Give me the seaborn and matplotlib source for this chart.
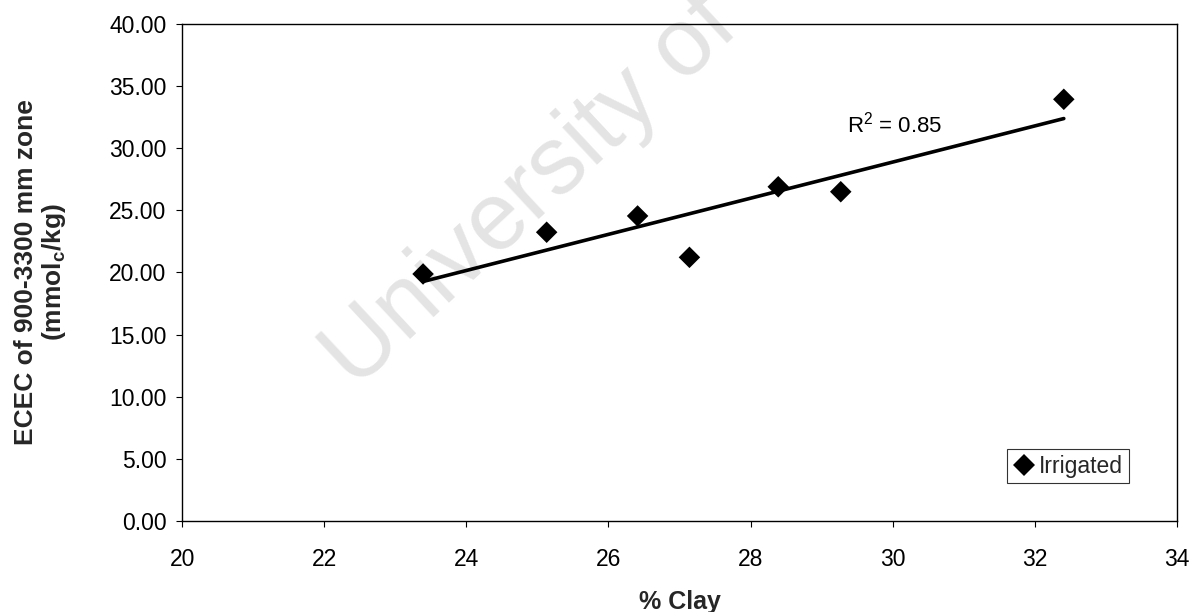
import matplotlib
matplotlib.use("Agg")
import matplotlib.pyplot as plt
import seaborn as sns
import numpy as np
import pandas as pd

# ---- data ----
clay_pct = [23.39, 25.13, 26.41, 27.14, 28.39, 29.27, 32.41]
ecec = [19.88, 23.24, 24.55, 21.22, 26.90, 26.50, 33.94]
series_name = "Irrigated"
r2_label = "R$^2$ = 0.85"
x_ticks = [20, 22, 24, 26, 28, 30, 32, 34]
y_ticks = [0, 5, 10, 15, 20, 25, 30, 35, 40]
x_label = "% Clay"
y_label = "ECEC of 900-3300 mm zone\n(mmol$_{\\mathbf{c}}$/kg)"
watermark = "University of Cape Town"

df = pd.DataFrame({"clay": clay_pct, "ecec": ecec, "group": series_name})

sns.set_theme(style="ticks")
plt.rcParams["font.family"] = ["Liberation Sans", "DejaVu Sans"]
plt.rcParams["mathtext.fontset"] = "custom"
plt.rcParams["mathtext.rm"] = "Liberation Sans"
plt.rcParams["mathtext.bf"] = "Liberation Sans:bold"
plt.rcParams["mathtext.it"] = "Liberation Sans:italic"

fig = plt.figure(figsize=(11.92, 6.12), dpi=100)
ax = fig.add_axes([0.1529, 0.1487, 0.8343, 0.8121])

# watermark (partly outside the figure, as in the reference)
ax.text(355 / 1192, 1 - 390 / 612, watermark, transform=fig.transFigure,
        rotation=43, rotation_mode="anchor", ha="left", va="baseline",
        fontsize=69, color="#e4e4e4", zorder=0.5, clip_on=False)

sns.regplot(data=df, x="clay", y="ecec", scatter=False, ci=None, truncate=True,
            line_kws={"color": "black", "lw": 2.6, "zorder": 3}, ax=ax)
sns.scatterplot(data=df, x="clay", y="ecec", hue="group", palette=["black"],
                marker="D", s=120, linewidth=0, edgecolor="black", ax=ax, zorder=4)

ax.set_xlim(20, 34)
ax.set_ylim(0, 40)
ax.set_xticks(x_ticks)
ax.set_yticks(y_ticks)
ax.set_yticklabels([f"{v:.2f}" for v in y_ticks])
ax.tick_params(axis="both", labelsize=16.5, length=4.3, width=0.8, color="black",
               labelcolor="black", direction="out")
ax.tick_params(axis="x", pad=15)
ax.tick_params(axis="y", pad=7)
for sp in ax.spines.values():
    sp.set_visible(True)
    sp.set_color("black")
    sp.set_linewidth(1.0)

ax.set_xlabel(x_label, fontsize=18, fontweight="bold", va="top")
ax.xaxis.set_label_coords(0.5, -0.139)
ax.set_ylabel(y_label, fontsize=19, fontweight="bold", linespacing=1.1)
ax.yaxis.set_label_coords(-0.115, 0.5)

ax.text(29.36, 31.3, r2_label, fontsize=16, color="black", ha="left",
        va="baseline", zorder=5)

leg = ax.legend(loc="upper right", bbox_to_anchor=(0.952, 0.145), frameon=True,
                fancybox=False, edgecolor="black", fontsize=16.5, handletextpad=0.15,
                borderpad=0.25, handlelength=1.0, borderaxespad=0, markerscale=1.0)
leg.get_frame().set_linewidth(0.8)

fig.savefig("out.png", dpi=100)
